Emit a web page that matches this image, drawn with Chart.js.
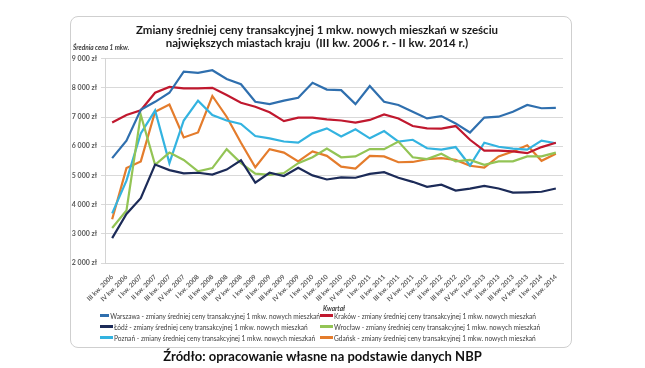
<!DOCTYPE html>
<html>
<head>
<meta charset="utf-8">
<script src="https://cdn.jsdelivr.net/npm/chart.js@4"></script>
<style>
  body { margin: 0; background: #fff; font-family: Lato, "Open Sans", sans-serif; }
  #page { position: relative; width: 645px; height: 368px; overflow: hidden; }
  #box { position: absolute; left: 70px; top: 16px; width: 500px; height: 330px;
         border: 1px solid #cfcfcf; border-radius: 8px; }
  #wrap { position: absolute; left: 71px; top: 17px; width: 499px; height: 296px; }
  #ytitle { position: absolute; left: 73px; top: 44px; font-size: 6.5px; font-style: italic;
            font-weight: bold; color: #404040; }
  #legend { position: absolute; left: 100px; top: 310px; width: 460px; }
  .row { display: flex; height: 11px; align-items: center; }
  .item { display: flex; align-items: center; font-size: 6.6px; color: #404040; white-space: nowrap; }
  .item:first-child { width: 220px; }
  .swatch { width: 13px; height: 2.5px; margin-right: 1px; }
  #source { position: absolute; left: 0; width: 645px; top: 348px; text-align: center;
            font-size: 13px; font-weight: bold; color: #111; }
</style>
</head>
<body>
<div id="page">
  <div id="box"></div>
  <div id="wrap"><canvas id="chart" width="499" height="296"></canvas></div>
  <div id="ytitle">Średnia cena 1 mkw.</div>
  <div id="legend"></div>
  <div id="source">Źródło: opracowanie własne na podstawie danych NBP</div>
</div>
<script>
const quarters = [
  "III kw. 2006", "IV kw. 2006",
  "I kw. 2007", "II kw. 2007", "III kw. 2007", "IV kw. 2007",
  "I kw. 2008", "II kw. 2008", "III kw. 2008", "IV kw. 2008",
  "I kw. 2009", "II kw. 2009", "III kw. 2009", "IV kw. 2009",
  "I kw. 2010", "II kw. 2010", "III kw. 2010", "IV kw. 2010",
  "I kw. 2011", "II kw. 2011", "III kw. 2011", "IV kw. 2011",
  "I kw. 2012", "II kw. 2012", "III kw. 2012", "IV kw. 2012",
  "I kw. 2013", "II kw. 2013", "III kw. 2013", "IV kw. 2013",
  "I kw. 2014", "II kw. 2014"
];

const warszawa = [5590, 6190, 7250, 7520, 7830, 8550, 8510, 8600, 8300, 8120, 7520, 7440, 7560, 7660, 8170, 7940,
                  7920, 7440, 8060, 7520, 7410, 7180, 6950, 7030, 6780, 6470, 6980, 7010, 7180, 7410, 7300, 7310];
const krakow = [6810, 7070, 7230, 7830, 8030, 7980, 7980, 8000, 7750, 7490, 7350, 7160, 6860, 6980, 6980, 6920,
                6880, 6810, 6900, 7090, 6950, 6690, 6610, 6600, 6690, 6220, 5850, 5850, 5820, 5760, 5970, 6120];
const lodz = [2850, 3680, 4220, 5370, 5180, 5070, 5090, 5030, 5200, 5520, 4750, 5090, 4980, 5260, 5000, 4860,
              4930, 4920, 5050, 5110, 4920, 4780, 4610, 4680, 4480, 4550, 4640, 4550, 4410, 4420, 4440, 4550];
const wroclaw = [3200, 3800, 7070, 5360, 5780, 5530, 5140, 5250, 5900, 5420, 5060, 5020, 5080, 5420, 5620, 5920,
                 5620, 5650, 5900, 5900, 6160, 5620, 5560, 5740, 5480, 5530, 5360, 5480, 5480, 5650, 5650, 5780];
const poznan = [3700, 4820, 6440, 7220, 5420, 6880, 7560, 7070, 6880, 6760, 6350, 6270, 6160, 6120, 6440, 6610,
                6330, 6580, 6270, 6520, 6160, 6220, 5930, 5880, 5970, 5340, 6120, 5980, 5920, 5880, 6190, 6100];
const gdansk = [3500, 5250, 5480, 7180, 7430, 6300, 6470, 7720, 7010, 6120, 5280, 5900, 5780, 5480, 5820, 5670,
                5300, 5230, 5670, 5650, 5450, 5460, 5560, 5590, 5530, 5330, 5270, 5650, 5820, 6030, 5500, 5740];

const suffix = " - zmiany średniej ceny transakcyjnej 1 mkw. nowych mieszkań";

const series = [
  { label: "Warszawa" + suffix, data: warszawa, color: "#2f6fae" },
  { label: "Kraków" + suffix, data: krakow, color: "#c0182e" },
  { label: "Łódź" + suffix, data: lodz, color: "#1c2b58" },
  { label: "Wrocław" + suffix, data: wroclaw, color: "#93c455" },
  { label: "Poznań" + suffix, data: poznan, color: "#33b3e0" },
  { label: "Gdańsk" + suffix, data: gdansk, color: "#e47c2c" },
];

const fmt = v => String(v).replace(/\B(?=(\d{3})+(?!\d))/g, " ") + " zł";

const chart = new Chart(document.getElementById("chart"), {
  type: "line",
  data: {
    labels: quarters,
    datasets: series.map(s => ({
      label: s.label,
      data: s.data,
      borderColor: s.color,
      backgroundColor: s.color,
      borderWidth: 2.2,
      pointRadius: 0,
      tension: 0,
    })),
  },
  options: {
    responsive: false,
    animation: false,
    layout: { padding: { left: 0, right: 7, top: 0, bottom: 0 } },
    plugins: {
      legend: { display: false },
      tooltip: { enabled: false },
      title: {
        display: true,
        text: ["Zmiany średniej ceny transakcyjnej 1 mkw. nowych mieszkań w sześciu",
               "największych miastach kraju  (III kw. 2006 r. - II kw. 2014 r.)"],
        color: "#1a1a1a",
        font: { family: "Lato", size: 11.5, weight: "bold", lineHeight: 1.2 },
        padding: { top: 6, bottom: 8 },
      },
    },
    scales: {
      x: {
        offset: true,
        grid: { display: false },
        border: { color: "#d4d4d4" },
        ticks: {
          color: "#595959",
          font: { family: "Lato", size: 6.5, weight: "bold" },
          minRotation: 45,
          maxRotation: 45,
          autoSkip: false,
          padding: 2,
        },
        title: {
          display: true,
          text: "Kwartał",
          color: "#404040",
          font: { family: "Lato", size: 6.5, weight: "bold", style: "italic" },
          padding: 0,
        },
        afterFit: s => { s.height = 50; },
      },
      y: {
        min: 2000,
        max: 9000,
        grid: { color: "#d9d9d9", tickLength: 4 },
        border: { color: "#d4d4d4" },
        ticks: {
          stepSize: 1000,
          color: "#595959",
          font: { family: "Lato", size: 7, weight: "bold" },
          padding: 4,
          callback: v => fmt(v),
        },
        afterFit: s => { s.width = 34; },
      },
    },
  },
});

// legend in two columns, like the original
const legend = document.getElementById("legend");
for (let r = 0; r < 3; r++) {
  const row = document.createElement("div");
  row.className = "row";
  [series[r * 2], series[r * 2 + 1]].forEach(s => {
    const item = document.createElement("div");
    item.className = "item";
    item.innerHTML = `<span class="swatch" style="background:${s.color}"></span>${s.label}`;
    row.appendChild(item);
  });
  legend.appendChild(row);
}
</script>
</body>
</html>
